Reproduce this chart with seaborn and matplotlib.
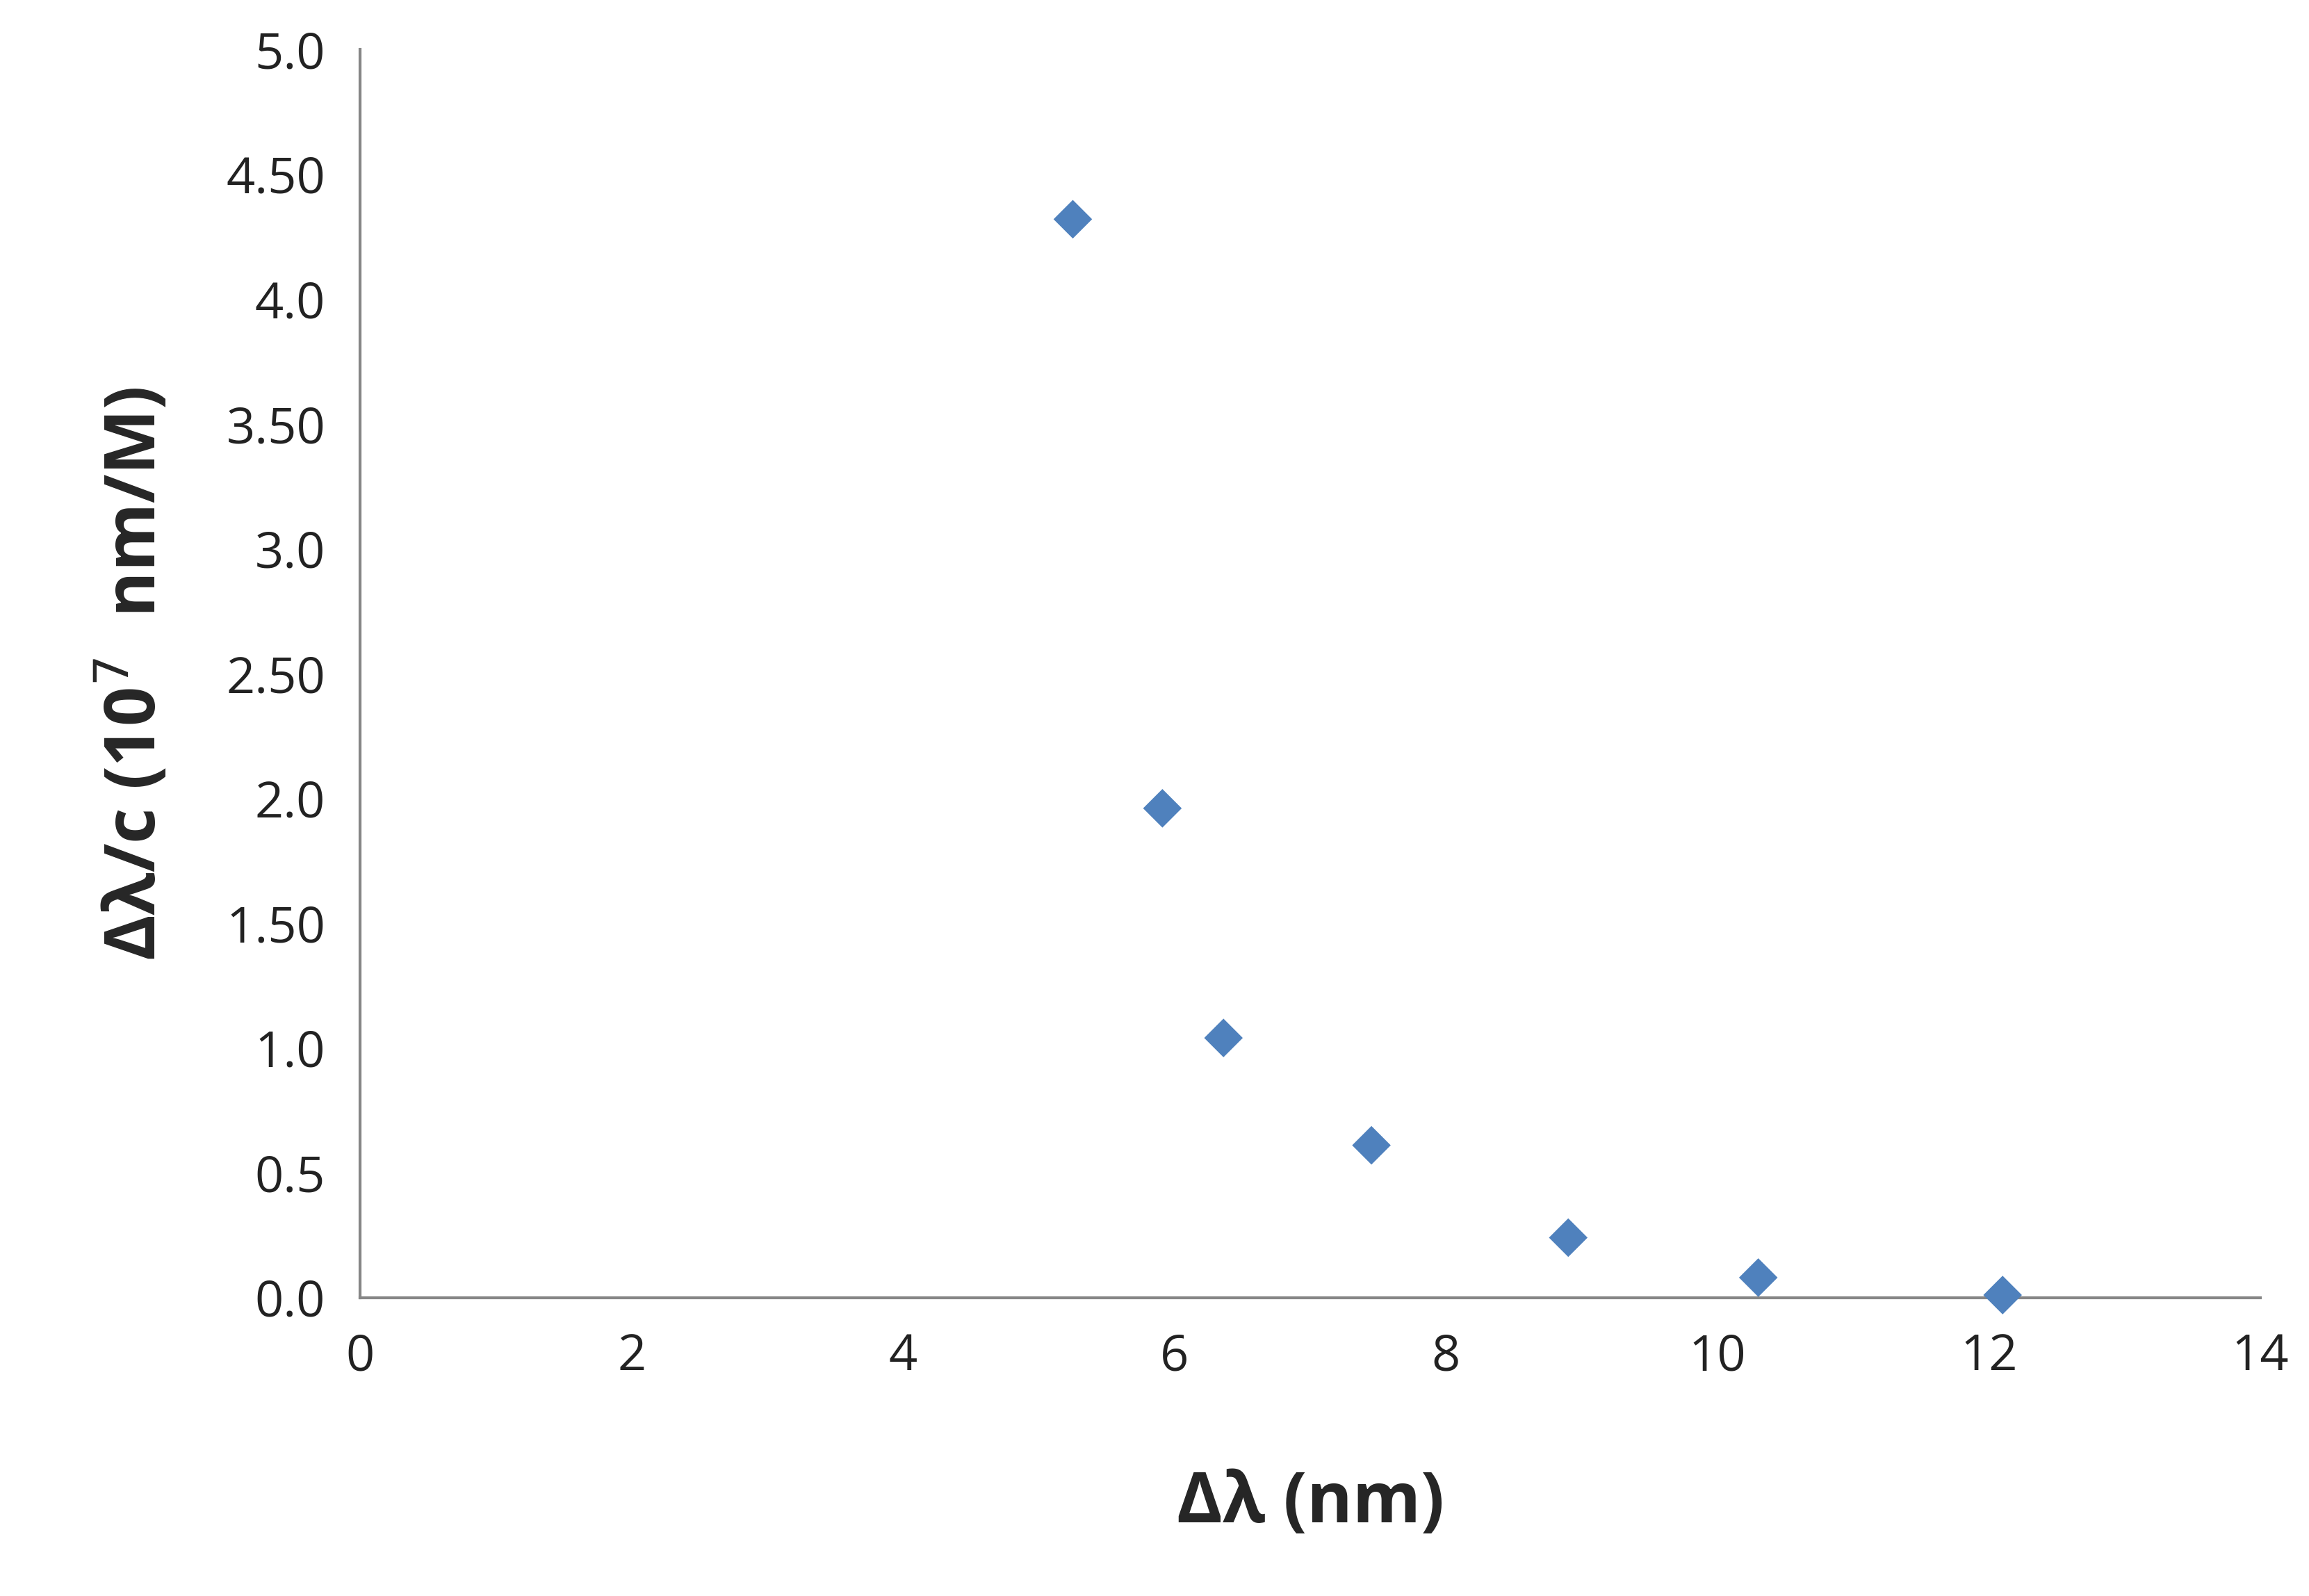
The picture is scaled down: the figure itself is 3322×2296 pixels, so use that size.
import matplotlib
matplotlib.use("Agg")
import matplotlib.pyplot as plt
import seaborn as sns
import pandas as pd

x_vals = [5.25, 5.91, 6.36, 7.45, 8.90, 10.30, 12.10]
y_vals = [4.32, 1.96, 1.04, 0.61, 0.24, 0.08, 0.01]
y_ticks = [0, 0.5, 1.0, 1.5, 2.0, 2.5, 3.0, 3.5, 4.0, 4.5, 5.0]
y_tick_labels = ["0.0", "0.5", "1.0", "1.50", "2.0", "2.50", "3.0", "3.50", "4.0", "4.50", "5.0"]
x_ticks = [0, 2, 4, 6, 8, 10, 12, 14]

sns.set_style("white")
plt.rcParams['font.family'] = ['Open Sans', 'DejaVu Sans']

fig = plt.figure(figsize=(16.61, 11.48), dpi=200)
ax = fig.add_axes([0.156, 0.187, 0.823, 0.782])
df = pd.DataFrame({"x": x_vals, "y": y_vals})
sns.scatterplot(data=df, x="x", y="y", marker="D", s=200, color="#4F81BD",
                edgecolor="none", ax=ax, clip_on=False, zorder=5)
ax.set_xlim(0, 14)
ax.set_ylim(0, 5)
ax.set_xticks(x_ticks)
ax.set_yticks(y_ticks)
ax.set_yticklabels(y_tick_labels)
for s in ["top", "right"]:
    ax.spines[s].set_visible(False)
for s in ["left", "bottom"]:
    ax.spines[s].set_color("#868686")
    ax.spines[s].set_linewidth(1.5)
ax.tick_params(axis="both", direction="out", length=10, width=1.5, color="#868686",
               labelsize=26, labelcolor="#222222", pad=8)
ax.set_xlabel("Δλ (nm)", fontsize=36, fontweight="bold", labelpad=45)
ax.set_ylabel("Δλ/c (10$^{7}$  nm/M)", fontsize=36, fontweight="bold", labelpad=28)
fig.savefig("out.png", dpi=200)
